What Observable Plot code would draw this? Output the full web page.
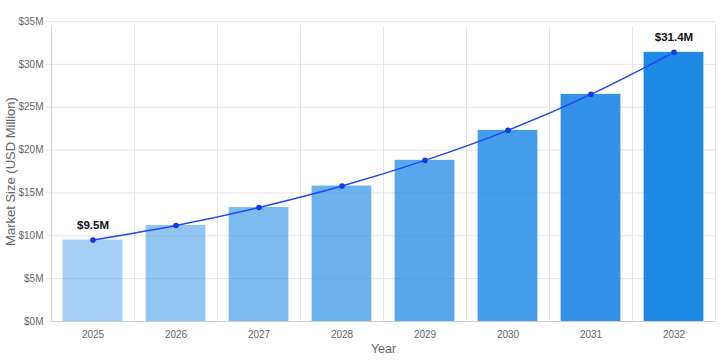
<!DOCTYPE html>
<html>
<head>
<meta charset="utf-8">
<script src="https://cdn.jsdelivr.net/npm/d3@7"></script>
<script src="https://cdn.jsdelivr.net/npm/@observablehq/plot@0.6"></script>
<style>
  html, body { margin: 0; padding: 0; background: #fff; }
  #chart { width: 720px; height: 360px; }
</style>
</head>
<body>
<div id="chart"></div>
<script>
const years = ["2025", "2026", "2027", "2028", "2029", "2030", "2031", "2032"];
const marketSize = [9.5, 11.2, 13.3, 15.8, 18.8, 22.3, 26.5, 31.4];
const yTicks = [0, 5, 10, 15, 20, 25, 30, 35];
const labelYears = ["2025", "2032"];
const labelTexts = ["$9.5M", "$31.4M"];
const yTitle = "Market Size (USD Million)";
const xTitle = "Year";

const data = years.map((y, i) => ({i, year: y, value: marketSize[i]}));
const labels = labelYears.map((y, k) => {
  const i = years.indexOf(y);
  return {i, value: marketSize[i], text: labelTexts[k]};
});
const bounds = d3.range(years.length + 1).map(k => k - 0.5);

const chart = Plot.plot({
  width: 720,
  height: 360,
  marginLeft: 51,
  marginRight: 5,
  marginTop: 21,
  marginBottom: 39,
  style: {fontFamily: "'Liberation Sans', Arial, sans-serif", fontSize: "10px", color: "#666", background: "#fff"},
  x: {type: "linear", domain: [-0.5, years.length - 0.5], axis: null},
  y: {domain: [0, 35], axis: null},
  marks: [
    Plot.ruleY(yTicks, {stroke: "#e6e6e6", strokeWidth: 1, insetLeft: -5}),
    Plot.ruleX(bounds, {y1: 0, y2: 35, stroke: "#e6e6e6", strokeWidth: 1, insetBottom: -5}),
    Plot.ruleX([bounds[0]], {y1: 0, y2: 35, stroke: "#d4d4d4", strokeWidth: 1, insetBottom: -5}),
    Plot.rectY(data, {
      x1: d => d.i - 0.36,
      x2: d => d.i + 0.36,
      y: "value",
      fill: "#1E88E5",
      fillOpacity: d => 0.4 + 0.6 * d.i / (years.length - 1)
    }),
    Plot.ruleY([0], {stroke: "#cfcfcf", strokeWidth: 1}),
    Plot.axisY({ticks: yTicks, tickSize: 0, tickPadding: 8, tickFormat: d => `$${d}M`, label: null, fill: "#666", fontSize: 10}),
    Plot.axisX({ticks: d3.range(years.length), tickSize: 0, tickPadding: 9, tickFormat: i => years[i], label: null, fill: "#666", fontSize: 10}),
    Plot.line(data, {x: "i", y: "value", stroke: "#1f45ff", strokeWidth: 1.5, curve: "monotone-x"}),
    Plot.dot(data, {x: "i", y: "value", r: 2.8, fill: "#1239e6"}),
    Plot.text(labels, {x: "i", y: "value", text: "text", dy: -15, fontWeight: "bold", fontSize: 11.5, fill: "#111"}),
    Plot.text([yTitle], {frameAnchor: "left", textAnchor: "middle", rotate: -90, dx: -41, fontSize: 13, fill: "#666"}),
    Plot.text([xTitle], {frameAnchor: "bottom", dy: 31, fontSize: 12.5, fill: "#666"})
  ]
});
document.getElementById("chart").appendChild(chart);
</script>
</body>
</html>
